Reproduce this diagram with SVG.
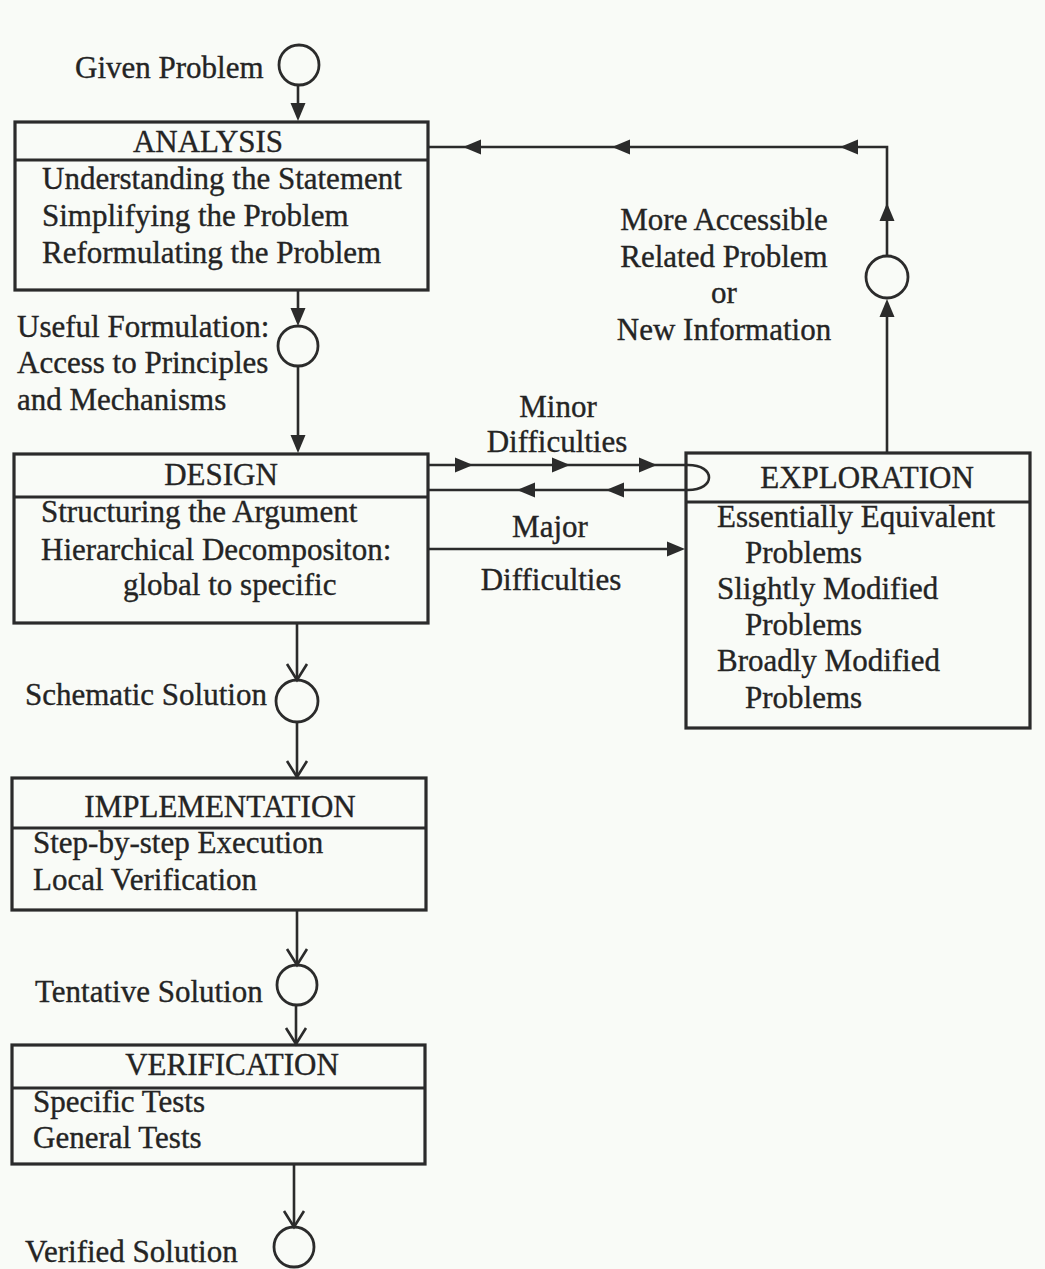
<svg xmlns="http://www.w3.org/2000/svg" xmlns:xlink="http://www.w3.org/1999/xlink" width="1045" height="1269" viewBox="0 0 1045 1269">
<style>
.box{fill:none;stroke:#2b2b2b;stroke-width:3.2}
.ln{fill:none;stroke:#2b2b2b;stroke-width:2.6}
.circ{fill:none;stroke:#2b2b2b;stroke-width:2.8}
.t{font-family:"Liberation Serif","Times New Roman",serif;font-size:31px;fill:#242424;stroke:#242424;stroke-width:0.35}
.c{text-anchor:middle}
</style>
<defs>
<path id="fa" d="M0,0 L-18,-7.5 L-18,7.5 Z" fill="#2b2b2b"/>
<path id="va" d="M-16,-10 L0,0 L-16,10" fill="none" stroke="#2b2b2b" stroke-width="2.6"/>
</defs>
<rect width="1045" height="1269" fill="#f9fbf7"/>

<g id="given-problem">
<circle class="circ" cx="299" cy="65" r="20"/>
<text class="t" x="75" y="78">Given Problem</text>
</g>

<g id="analysis">
<rect class="box" x="15" y="122" width="413" height="168"/>
<line class="box" x1="15" y1="160" x2="428" y2="160"/>
<text class="t c" x="208" y="152">ANALYSIS</text>
<text class="t" x="42" y="189">Understanding the Statement</text>
<text class="t" x="42" y="226">Simplifying the Problem</text>
<text class="t" x="42" y="263">Reformulating the Problem</text>
</g>

<g id="useful-formulation">
<circle class="circ" cx="298" cy="346" r="20"/>
<text class="t" x="17" y="337">Useful Formulation:</text>
<text class="t" x="17" y="373">Access to Principles</text>
<text class="t" x="17" y="410">and Mechanisms</text>
</g>

<g id="design">
<rect class="box" x="14" y="454" width="414" height="169"/>
<line class="box" x1="14" y1="497" x2="428" y2="497"/>
<text class="t c" x="221" y="485">DESIGN</text>
<text class="t" x="41" y="522">Structuring the Argument</text>
<text class="t" x="41" y="560">Hierarchical Decompositon:</text>
<text class="t" x="123" y="595">global to specific</text>
</g>

<g id="exploration">
<rect class="box" x="686" y="453" width="344" height="275"/>
<line class="box" x1="686" y1="502" x2="1030" y2="502"/>
<text class="t c" x="867" y="488">EXPLORATION</text>
<text class="t" x="717" y="527">Essentially Equivalent</text>
<text class="t" x="745" y="563">Problems</text>
<text class="t" x="717" y="599">Slightly Modified</text>
<text class="t" x="745" y="635">Problems</text>
<text class="t" x="717" y="671">Broadly Modified</text>
<text class="t" x="745" y="708">Problems</text>
</g>

<g id="accessible-problem-node">
<circle class="circ" cx="887" cy="277" r="21"/>
</g>

<g id="schematic-solution">
<circle class="circ" cx="297" cy="701" r="21"/>
<text class="t" x="25" y="705">Schematic Solution</text>
</g>

<g id="implementation">
<rect class="box" x="12" y="778" width="414" height="132"/>
<line class="box" x1="12" y1="828" x2="426" y2="828"/>
<text class="t c" x="220" y="817">IMPLEMENTATION</text>
<text class="t" x="33" y="853">Step-by-step Execution</text>
<text class="t" x="33" y="890">Local Verification</text>
</g>

<g id="tentative-solution">
<circle class="circ" cx="297" cy="985" r="20"/>
<text class="t" x="35" y="1002">Tentative Solution</text>
</g>

<g id="verification">
<rect class="box" x="12" y="1045" width="413" height="119"/>
<line class="box" x1="12" y1="1088" x2="425" y2="1088"/>
<text class="t c" x="232" y="1075">VERIFICATION</text>
<text class="t" x="33" y="1112">Specific Tests</text>
<text class="t" x="33" y="1148">General Tests</text>
</g>

<g id="verified-solution">
<circle class="circ" cx="294" cy="1247" r="20"/>
<text class="t" x="25" y="1262">Verified Solution</text>
</g>

<g id="connectors">
<line class="ln" x1="298" y1="85" x2="298" y2="110"/>
<use xlink:href="#fa" href="#fa" transform="translate(298,121) rotate(90)"/>
<line class="ln" x1="298" y1="290" x2="298" y2="315"/>
<use xlink:href="#fa" href="#fa" transform="translate(298,326) rotate(90)"/>
<line class="ln" x1="298" y1="366" x2="298" y2="442"/>
<use xlink:href="#fa" href="#fa" transform="translate(298,453) rotate(90)"/>
<line class="ln" x1="297" y1="623" x2="297" y2="680"/>
<use xlink:href="#va" href="#va" transform="translate(297,680) rotate(90)"/>
<line class="ln" x1="297" y1="722" x2="297" y2="777"/>
<use xlink:href="#va" href="#va" transform="translate(297,777) rotate(90)"/>
<line class="ln" x1="297" y1="910" x2="297" y2="965"/>
<use xlink:href="#va" href="#va" transform="translate(297,965) rotate(90)"/>
<line class="ln" x1="296" y1="1005" x2="296" y2="1044"/>
<use xlink:href="#va" href="#va" transform="translate(296,1044) rotate(90)"/>
<line class="ln" x1="294" y1="1164" x2="294" y2="1227"/>
<use xlink:href="#va" href="#va" transform="translate(294,1227) rotate(90)"/>

<path class="ln" d="M428,465 H688 C716,465 716,490 688,490 H428"/>
<use xlink:href="#fa" href="#fa" transform="translate(473,465)"/>
<use xlink:href="#fa" href="#fa" transform="translate(570,465)"/>
<use xlink:href="#fa" href="#fa" transform="translate(657,465)"/>
<use xlink:href="#fa" href="#fa" transform="translate(517,490) rotate(180)"/>
<use xlink:href="#fa" href="#fa" transform="translate(606,490) rotate(180)"/>
<text class="t c" x="558" y="417">Minor</text>
<text class="t c" x="557" y="452">Difficulties</text>

<line class="ln" x1="428" y1="549" x2="674" y2="549"/>
<use xlink:href="#fa" href="#fa" transform="translate(685,549)"/>
<text class="t c" x="550" y="537">Major</text>
<text class="t c" x="551" y="590">Difficulties</text>

<line class="ln" x1="887" y1="453" x2="887" y2="310"/>
<use xlink:href="#fa" href="#fa" transform="translate(887,299) rotate(-90)"/>
<polyline class="ln" points="887,256 887,147 428,147"/>
<use xlink:href="#fa" href="#fa" transform="translate(887,203) rotate(-90)"/>
<use xlink:href="#fa" href="#fa" transform="translate(840,147) rotate(180)"/>
<use xlink:href="#fa" href="#fa" transform="translate(612,147) rotate(180)"/>
<use xlink:href="#fa" href="#fa" transform="translate(463,147) rotate(180)"/>
<text class="t c" x="724" y="230">More Accessible</text>
<text class="t c" x="724" y="267">Related Problem</text>
<text class="t c" x="724" y="303">or</text>
<text class="t c" x="724" y="340">New Information</text>
</g>
</svg>
